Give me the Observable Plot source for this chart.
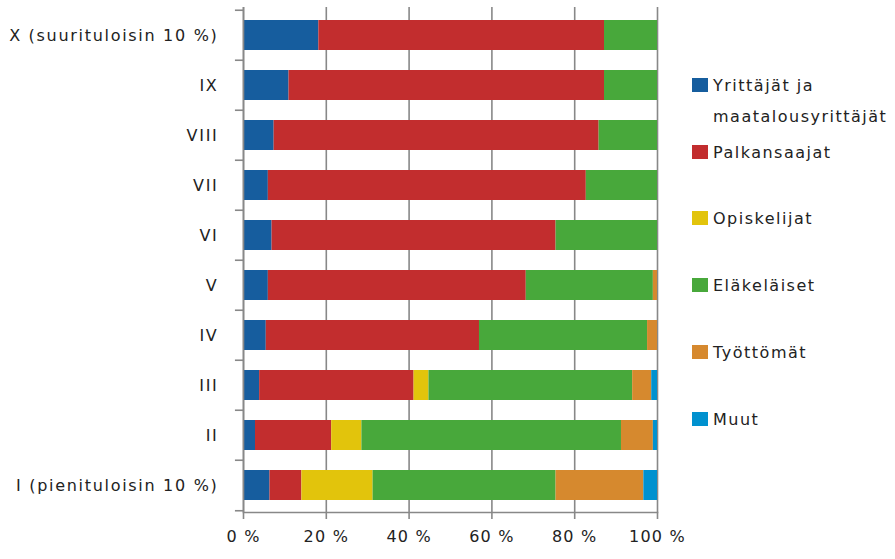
<!DOCTYPE html>
<html>
<head>
<meta charset="utf-8">
<script src="https://cdn.jsdelivr.net/npm/d3@7"></script>
<script src="https://cdn.jsdelivr.net/npm/@observablehq/plot@0.6"></script>
<style>
  html, body { margin: 0; padding: 0; background: #fff; }
  #wrap { position: relative; width: 895px; height: 559px; overflow: hidden; font-family: "DejaVu Sans", sans-serif; }
  #legend { position: absolute; left: 692px; top: 0; }
  .item { position: absolute; left: 0; width: 203px; display: flex; align-items: flex-start; }
  .sw { width: 16px; height: 14px; margin-top: 8px; flex: none; }
  .lab { margin-left: 5px; font-size: 16px; letter-spacing: 1.5px; line-height: 31px; color: #222; width: 182px; }
</style>
</head>
<body>
<div id="wrap"><div id="chart"></div><div id="legend"></div></div>
<script>
const categories = ["X (suurituloisin 10 %)", "IX", "VIII", "VII", "VI", "V", "IV", "III", "II", "I (pienituloisin 10 %)"];
const series = ["Yrittäjät ja maatalousyrittäjät", "Palkansaajat", "Opiskelijat", "Eläkeläiset", "Työttömät", "Muut"];
const colors = ["#165D9E", "#C22D2E", "#E2C40C", "#48A83B", "#D6892E", "#0091CF"];
const yrittajat    = [18.2, 11.0,  7.4,  6.0,  6.9,  6.0,  5.5,  3.9,  2.9,  6.4];
const palkansaajat = [69.0, 76.2, 78.5, 76.8, 68.6, 62.3, 51.5, 37.3, 18.4,  7.7];
const opiskelijat  = [ 0.0,  0.0,  0.0,  0.0,  0.0,  0.0,  0.0,  3.6,  7.3, 17.2];
const elakelaiset  = [12.8, 12.8, 14.1, 17.2, 24.5, 30.7, 40.6, 49.2, 62.7, 44.2];
const tyottomat    = [ 0.0,  0.0,  0.0,  0.0,  0.0,  1.0,  2.4,  4.6,  7.7, 21.2];
const muut         = [ 0.0,  0.0,  0.0,  0.0,  0.0,  0.0,  0.0,  1.4,  1.0,  3.3];
const xTicks = [0, 20, 40, 60, 80, 100];

const seriesValues = [yrittajat, palkansaajat, opiskelijat, elakelaiset, tyottomat, muut];
const data = [];
categories.forEach((c, i) => {
  series.forEach((s, j) => {
    data.push({category: c, series: s, value: seriesValues[j][i]});
  });
});

const step = 50.5;
const font = "DejaVu Sans, sans-serif";

const chart = Plot.plot({
  width: 895,
  height: 559,
  marginLeft: 243,
  marginRight: 238,
  marginTop: 7,
  marginBottom: 47,
  style: {fontFamily: font, fontSize: "16px", color: "#222", background: "#fff"},
  x: {domain: [0, 100], ticks: xTicks},
  y: {domain: categories, paddingInner: 0.4, paddingOuter: 0.2},
  color: {domain: series, range: colors},
  marks: [
    Plot.gridX(xTicks, {stroke: "#888", strokeOpacity: 1, strokeWidth: 1.6}),
    Plot.barX(data, {x: "value", y: "category", fill: "series"}),
    Plot.ruleX([0], {stroke: "#888", strokeWidth: 1.6}),
    Plot.frame({anchor: "bottom", stroke: "#888", strokeWidth: 1.6}),
    Plot.ruleY(categories, {y: d => d, x1: -1.95, x2: 0, dy: -step / 2, stroke: "#888", strokeWidth: 1.6}),
    Plot.ruleY(categories.slice(-1), {y: d => d, x1: -1.95, x2: 0, dy: step / 2, stroke: "#888", strokeWidth: 1.6}),
    Plot.axisX({ticks: xTicks, tickSize: 7, tickPadding: 11, stroke: "#888", strokeWidth: 1.6, tickFormat: d => d + " %", fontSize: 16, label: null, fill: "#222"}),
    Plot.axisY({tickSize: 0, tickPadding: 25, fontSize: 16, label: null, fill: "#222"})
  ]
});
chart.querySelectorAll("[aria-label='x-axis tick label'] text").forEach(t => t.style.letterSpacing = "1.2px");
chart.querySelectorAll("[aria-label='y-axis tick label'] text").forEach(t => t.style.letterSpacing = "1.7px");
document.getElementById("chart").appendChild(chart);

const legend = document.getElementById("legend");
const itemTops = [70, 137, 203, 270, 337, 404];
series.forEach((s, i) => {
  const it = document.createElement("div");
  it.className = "item";
  it.style.top = itemTops[i] + "px";
  const sw = document.createElement("div");
  sw.className = "sw";
  sw.style.background = colors[i];
  const lab = document.createElement("div");
  lab.className = "lab";
  lab.textContent = s;
  it.appendChild(sw);
  it.appendChild(lab);
  legend.appendChild(it);
});
</script>
</body>
</html>
